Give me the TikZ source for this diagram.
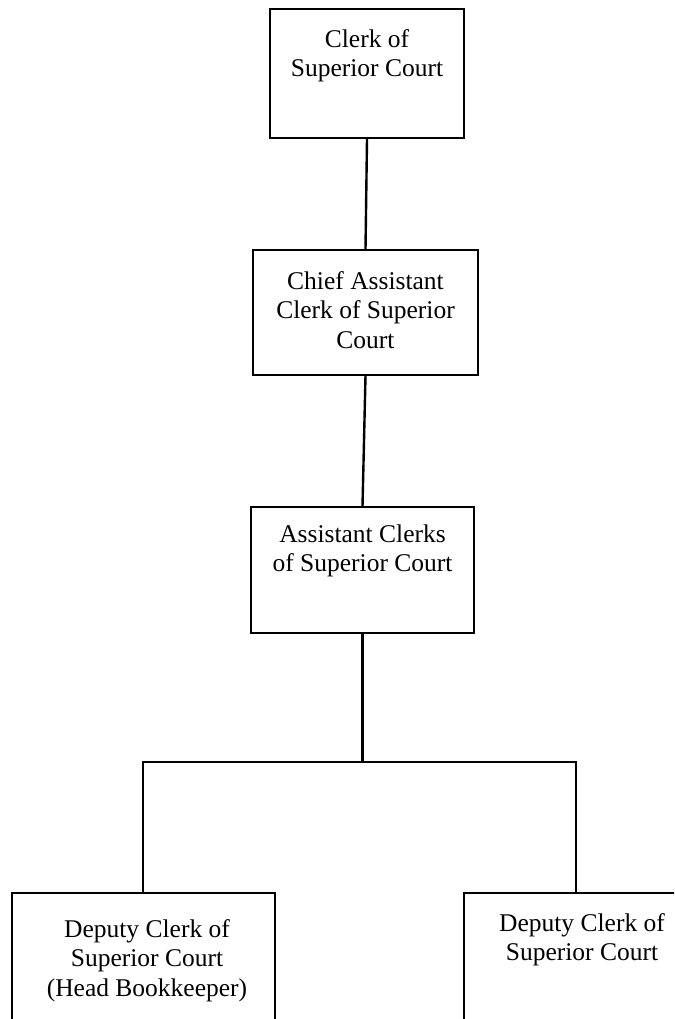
\documentclass[tikz,border=0pt]{standalone}
\usepackage{fontspec}
\setmainfont{Liberation Serif}
\begin{document}
\begin{tikzpicture}[x=1pt,y=-1pt,
  box/.style={draw=black,line width=1.6pt,rectangle,inner sep=0pt},
  conn/.style={draw=black,line width=2.4pt},
  lbl/.style={inner sep=0pt,anchor=base,font=\fontsize{25.5}{29.5}\selectfont}]
\useasboundingbox (0,0) rectangle (674,1019);
\clip (0,0) rectangle (674,1019);
\node[box,minimum width=194pt,minimum height=129pt] (b1) at (367,73.5) {};
\node[box,minimum width=225pt,minimum height=125pt] (b2) at (365.5,312.5) {};
\node[box,minimum width=223pt,minimum height=126pt] (b3) at (362.5,570) {};
\node[box,minimum width=263pt,minimum height=147pt] (b4) at (143.5,966.5) {};
\node[box,minimum width=236pt,minimum height=147pt] (b5) at (582,966.5) {};
\node[lbl] (t1) at ([yshift=-39pt]b1.north) {\begin{tabular}[t]{@{}c@{}}Clerk of\\Superior Court\end{tabular}};
\node[lbl] (t2) at ([yshift=-40pt]b2.north) {\begin{tabular}[t]{@{}c@{}}Chief Assistant\\Clerk of Superior\\Court\end{tabular}};
\node[lbl] (t3) at ([yshift=-36pt]b3.north) {\begin{tabular}[t]{@{}c@{}}Assistant Clerks\\of Superior Court\end{tabular}};
\node[lbl] (t4) at ([xshift=3.5pt,yshift=-45pt]b4.north) {\begin{tabular}[t]{@{}c@{}}Deputy Clerk of\\Superior Court\\(Head Bookkeeper)\end{tabular}};
\node[lbl] (t5) at ([yshift=-39pt]b5.north) {\begin{tabular}[t]{@{}c@{}}Deputy Clerk of\\Superior Court\end{tabular}};
\coordinate (lt) at (143,762);
\coordinate (rt) at (576,762);
\draw[conn] (b1.south) -- (b2.north);
\draw[conn] (b2.south) -- (b3.north);
\draw[conn] (b3.south) -- (b3.south |- lt);
\draw[conn,line cap=rect] (lt) -- (rt);
\draw[conn] (lt) -- (lt |- b4.north);
\draw[conn] (rt) -- (rt |- b5.north);
\end{tikzpicture}
\end{document}
